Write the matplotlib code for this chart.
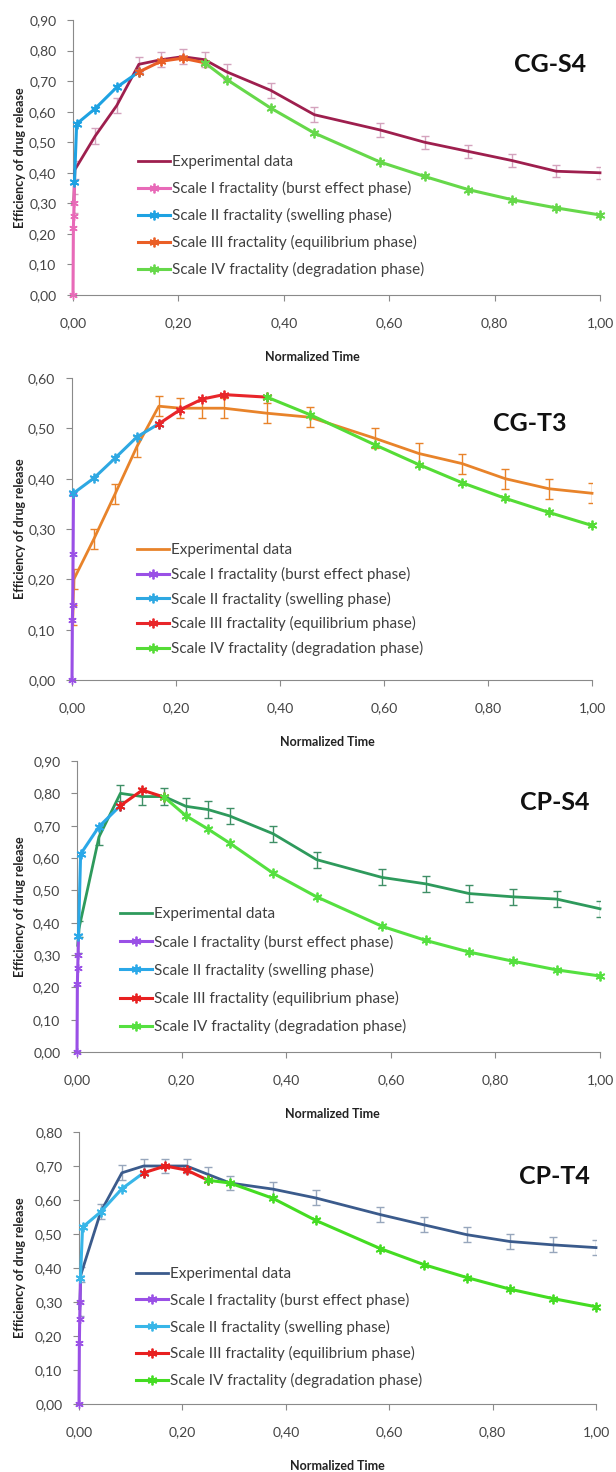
import matplotlib
matplotlib.use("Agg")
from matplotlib import pyplot as plt
from matplotlib.lines import Line2D

plt.rcParams['font.family'] = ['Lato', 'DejaVu Sans']

# normalized time of the experimental samples
x_exp = [0.0014, 0.0035, 0.042, 0.083, 0.125, 0.167, 0.208, 0.25, 0.292,
         0.375, 0.458, 0.583, 0.667, 0.75, 0.833, 0.917, 1.0]
x_scale1 = [0.0, 0.0007, 0.0014, 0.0021, 0.0028]

x_ticks = [0.0, 0.2, 0.4, 0.6, 0.8, 1.0]
x_tick_labels = ['0,00', '0,20', '0,40', '0,60', '0,80', '1,00']

labels = ['Experimental data',
          'Scale I fractality (burst effect phase)',
          'Scale II fractality (swelling phase)',
          'Scale III fractality (equilibrium phase)',
          'Scale IV fractality (degradation phase)']

# CG-S4
cgs4_exp = [0.30, 0.41, 0.52, 0.62, 0.755, 0.77, 0.78, 0.77, 0.73, 0.67, 0.59,
            0.54, 0.50, 0.47, 0.44, 0.405, 0.40]
cgs4_err = [0.03, 0.03, 0.025, 0.025, 0.025, 0.025, 0.025, 0.025, 0.025, 0.025,
            0.025, 0.022, 0.022, 0.02, 0.02, 0.02, 0.02]
cgs4_s1 = [0.0, 0.22, 0.26, 0.30, 0.37]
cgs4_s2_x = [0.0028, 0.0069, 0.042, 0.083, 0.125]
cgs4_s2 = [0.37, 0.56, 0.61, 0.68, 0.73]
cgs4_s3_x = [0.125, 0.167, 0.208, 0.25]
cgs4_s3 = [0.73, 0.765, 0.775, 0.76]
cgs4_s4_x = [0.25, 0.292, 0.375, 0.458, 0.583, 0.667, 0.75, 0.833, 0.917, 1.0]
cgs4_s4 = [0.76, 0.705, 0.612, 0.53, 0.435, 0.388, 0.345, 0.312, 0.285, 0.262]

# CG-T3
cgt3_exp = [0.13, 0.20, 0.28, 0.37, 0.464, 0.544, 0.54, 0.54, 0.54, 0.53, 0.522,
            0.48, 0.45, 0.43, 0.40, 0.38, 0.371]
cgt3_err = [0.02] * 17
cgt3_s1 = [0.0, 0.12, 0.15, 0.25, 0.37]
cgt3_s2_x = [0.0028, 0.042, 0.083, 0.125, 0.167]
cgt3_s2 = [0.371, 0.401, 0.441, 0.483, 0.509]
cgt3_s3_x = [0.167, 0.208, 0.25, 0.292, 0.375]
cgt3_s3 = [0.509, 0.537, 0.558, 0.567, 0.562]
cgt3_s4_x = [0.375, 0.458, 0.583, 0.667, 0.75, 0.833, 0.917, 1.0]
cgt3_s4 = [0.562, 0.527, 0.467, 0.428, 0.392, 0.361, 0.333, 0.307]

# CP-S4
cps4_exp = [0.33, 0.38, 0.665, 0.80, 0.79, 0.79, 0.76, 0.75, 0.73, 0.675, 0.595,
            0.54, 0.52, 0.49, 0.48, 0.473, 0.443]
cps4_err = [0.025] * 17
cps4_s1 = [0.0, 0.21, 0.26, 0.30, 0.36]
cps4_s2_x = [0.0028, 0.0069, 0.042, 0.083]
cps4_s2 = [0.36, 0.612, 0.697, 0.762]
cps4_s3_x = [0.083, 0.125, 0.167]
cps4_s3 = [0.762, 0.81, 0.788]
cps4_s4_x = [0.167, 0.208, 0.25, 0.292, 0.375, 0.458, 0.583, 0.667, 0.75,
             0.833, 0.917, 1.0]
cps4_s4 = [0.788, 0.731, 0.69, 0.646, 0.553, 0.48, 0.389, 0.345, 0.309, 0.281,
           0.254, 0.235]

# CP-T4
cpt4_exp = [0.28, 0.38, 0.565, 0.68, 0.70, 0.70, 0.70, 0.675, 0.65, 0.632, 0.606,
            0.557, 0.527, 0.498, 0.478, 0.468, 0.46]
cpt4_err = [0.022] * 17
cpt4_s1 = [0.0, 0.18, 0.25, 0.30, 0.37]
cpt4_s2_x = [0.0028, 0.0069, 0.042, 0.083, 0.125]
cpt4_s2 = [0.37, 0.52, 0.565, 0.633, 0.68]
cpt4_s3_x = [0.125, 0.167, 0.208, 0.25]
cpt4_s3 = [0.68, 0.70, 0.688, 0.658]
cpt4_s4_x = [0.25, 0.292, 0.375, 0.458, 0.583, 0.667, 0.75, 0.833, 0.917, 1.0]
cpt4_s4 = [0.658, 0.65, 0.605, 0.54, 0.457, 0.41, 0.372, 0.338, 0.31, 0.286]

W, H = 616, 1472

panels = [
    dict(name='CG-S4', box=(73, 600, 20, 295), ymax=0.9,
         exp=cgs4_exp, err=cgs4_err, s1=cgs4_s1,
         s2=(cgs4_s2_x, cgs4_s2), s3=(cgs4_s3_x, cgs4_s3), s4=(cgs4_s4_x, cgs4_s4),
         colors=['#9e1f4e', '#e86ab8', '#1ea2e2', '#ea5f26', '#66d84a'],
         errcolor='#d4a3bd', title_pos=(0.905, 0.84),
         leg=(0.123, 0.065), legsp=0.78, xlab=312),
    dict(name='CG-T3', box=(72, 592, 378, 680), ymax=0.6,
         exp=cgt3_exp, err=cgt3_err, s1=cgt3_s1,
         s2=(cgt3_s2_x, cgt3_s2), s3=(cgt3_s3_x, cgt3_s3), s4=(cgt3_s4_x, cgt3_s4),
         colors=['#e8832a', '#9a50e6', '#2ea8e2', '#e8262a', '#55dc36'],
         errcolor='#e8832a', title_pos=(0.88, 0.85),
         leg=(0.125, 0.079), legsp=0.63, xlab=327),
    dict(name='CP-S4', box=(77, 600, 761, 1052), ymax=0.9,
         exp=cps4_exp, err=cps4_err, s1=cps4_s1,
         s2=(cps4_s2_x, cps4_s2), s3=(cps4_s3_x, cps4_s3), s4=(cps4_s4_x, cps4_s4),
         colors=['#2e9a5c', '#9a50e6', '#2aa8e8', '#e82020', '#55e040'],
         errcolor='#3f8f66', title_pos=(0.914, 0.856),
         leg=(0.082, 0.061), legsp=0.86, xlab=332),
    dict(name='CP-T4', box=(79, 596, 1132, 1404), ymax=0.8,
         exp=cpt4_exp, err=cpt4_err, s1=cpt4_s1,
         s2=(cpt4_s2_x, cpt4_s2), s3=(cpt4_s3_x, cpt4_s3), s4=(cpt4_s4_x, cpt4_s4),
         colors=['#3b5b8c', '#9a50e6', '#38b6e8', '#e82020', '#44dc22'],
         errcolor='#97a6bc', title_pos=(0.92, 0.835),
         leg=(0.11, 0.058), legsp=0.77, xlab=337),
]

fig = plt.figure(figsize=(W / 100, H / 100), dpi=100)
star = (6, 2, 0)

for p in panels:
    left, right, top, bottom = p['box']
    ax = fig.add_axes([left / W, (H - bottom) / H, (right - left) / W, (bottom - top) / H])
    c = p['colors']

    ax.errorbar(x_exp, p['exp'], yerr=p['err'], fmt='none', ecolor=p['errcolor'],
                elinewidth=1, capsize=3, capthick=1, zorder=2)
    ax.plot(x_exp, p['exp'], color=c[0], lw=2, zorder=3, clip_on=False)
    ax.plot(x_scale1, p['s1'], color=c[1], lw=2.2, marker=star, ms=6, mew=1,
            zorder=4, clip_on=False)
    for (xs, ys), col in zip([p['s2'], p['s3'], p['s4']], c[2:]):
        ax.plot(xs, ys, color=col, lw=2.2, marker=star, ms=7, mew=1.3, zorder=5,
                clip_on=False)

    ax.set_xlim(0, 1)
    ax.set_ylim(0, p['ymax'])
    ax.set_xticks(x_ticks)
    ax.set_xticklabels(x_tick_labels)
    n = int(round(p['ymax'] * 10))
    yt = [i / 10 for i in range(n + 1)]
    ax.set_yticks(yt)
    ax.set_yticklabels([f'{v:.2f}'.replace('.', ',') for v in yt])

    for s in ['top', 'right']:
        ax.spines[s].set_visible(False)
    for s in ['left', 'bottom']:
        ax.spines[s].set_color('#8a8a8a')
    ax.tick_params(axis='both', direction='out', length=4, color='#8a8a8a',
                   labelsize=10, labelcolor='#444444')
    ax.tick_params(axis='x', pad=12)
    ax.tick_params(axis='y', pad=8)
    ax.set_facecolor('none')

    ax.text(p['title_pos'][0], p['title_pos'][1], p['name'], transform=ax.transAxes,
            ha='center', va='center', fontsize=18, fontweight='bold', color='#111111')

    handles = [Line2D([], [], color=c[0], lw=2)]
    handles += [Line2D([], [], color=col, lw=2.2, marker=star, ms=7, mew=1.3) for col in c[1:]]
    ax.legend(handles, labels, loc='lower left', bbox_to_anchor=p['leg'], frameon=False,
              fontsize=11, handlelength=2.1, handletextpad=0.15, borderpad=0,
              borderaxespad=0, labelspacing=p['legsp'], labelcolor='#404040')

    fig.text(p['xlab'] / W, 1 - (bottom + 62) / H, 'Normalized Time',
             ha='center', va='center', fontsize=9, fontweight='bold', color='#222222')
    fig.text(20 / W, 1 - (top + bottom) / 2 / H, 'Efficiency of drug release',
             rotation=90, ha='center', va='center', fontsize=9, fontweight='bold',
             color='#222222')

fig.savefig('out.png', dpi=100)
